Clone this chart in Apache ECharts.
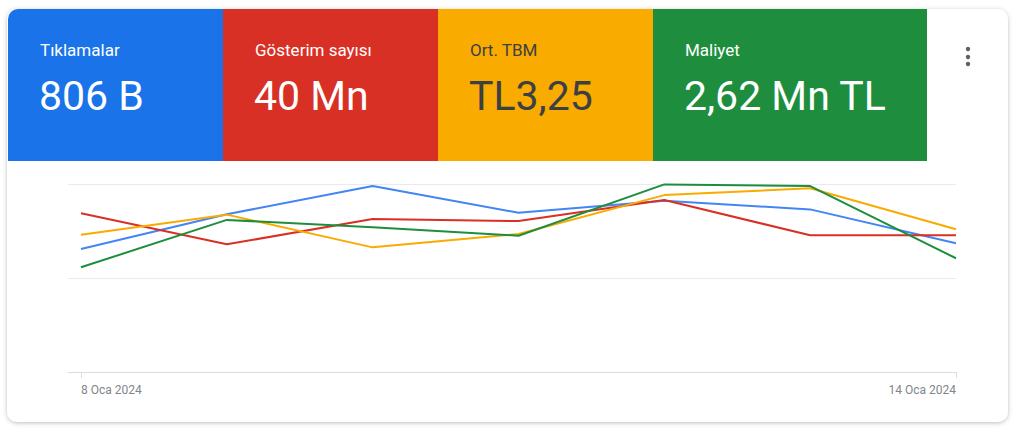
<!DOCTYPE html>
<html><head><meta charset="utf-8">
<script src="https://cdn.jsdelivr.net/npm/echarts@6/dist/echarts.min.js"></script>
<style>html,body{margin:0;padding:0;background:#fff;}#c{width:1019px;height:437px;}</style>
</head><body><div id="c"></div>
<script>
// Data
const dates = ['8 Oca 2024','9 Oca 2024','10 Oca 2024','11 Oca 2024','12 Oca 2024','13 Oca 2024','14 Oca 2024'];
const metricNames = ['Tıklamalar','Gösterim sayısı','Ort. TBM','Maliyet'];
const metricValues = ['806 B','40 Mn','TL3,25','2,62 Mn TL'];
// relative index (top gridline = 100)
const clicks      = [65.4, 83.9, 98.9, 84.7, 91.1, 86.5, 68.5];
const impressions = [84.4, 67.9, 81.4, 80.3, 91.5, 72.7, 72.7];
const avgCpc      = [73.0, 83.7, 66.3, 73.4, 94.1, 97.7, 75.9];
const cost        = [55.7, 80.9, 77.0, 72.5, 99.8, 98.9, 60.5];
const tickLabelIdx = [0, 6];

const seriesData = [clicks, impressions, avgCpc, cost];
const lineColors = ['#4285f4','#d93025','#f9ab00','#1e8e3e'];
const tileColors = ['#1a73e8','#d93025','#f9ab00','#1e8e3e'];
const tileText = ['#ffffff','#ffffff','#3c4043','#ffffff'];
const tileX = [8, 223, 438, 653, 927];

const chart = echarts.init(document.getElementById('c'), null, {renderer:'svg'});
const graphic = [];
graphic.push({type:'rect', z:-10, shape:{x:7,y:9,width:1001,height:413,r:10},
  style:{fill:'#fff', shadowBlur:4, shadowOffsetY:1, shadowColor:'rgba(60,64,67,0.35)'}});
for (let i=0;i<4;i++){
  const x0=tileX[i], w=tileX[i+1]-x0;
  graphic.push({type:'rect', z:-5, shape:{x:x0,y:9,width:w,height:152,r: i===0?[10,0,0,0]:0}, style:{fill:tileColors[i]}});
  graphic.push({type:'text', z:1, x:x0+32, y:41, style:{text:metricNames[i], fill:tileText[i], font:'400 17px Roboto', verticalAlign:'top'}});
  graphic.push({type:'text', z:1, x:x0+31, y:75, style:{text:metricValues[i], fill:tileText[i], font:'400 41px Roboto', verticalAlign:'top'}});
}
[49,57,64].forEach(y=>graphic.push({type:'circle', shape:{cx:968,cy:y,r:2.2}, style:{fill:'#5f6368'}}));

chart.setOption({
  animation:false,
  graphic: graphic,
  grid:{left:68, right:63, top:184, bottom:65},
  xAxis:{type:'value', min:-0.089, max:6,
    axisLine:{lineStyle:{color:'#dadce0'}},
    axisTick:{show:true, customValues:tickLabelIdx, length:6, lineStyle:{color:'#dadce0'}},
    axisLabel:{customValues:tickLabelIdx, color:'#80868b', fontFamily:'Roboto', fontSize:12, margin:12,
      formatter:(v)=>dates[Math.round(v)],
      align:'left', alignMinLabel:'left', alignMaxLabel:'right'},
    splitLine:{show:false}},
  yAxis:{type:'value', min:0, max:100, interval:50, axisLabel:{show:false}, axisLine:{show:false}, axisTick:{show:false},
    splitLine:{lineStyle:{color:'#e8eaed', width:1}}},
  series: seriesData.map((d,k)=>({type:'line', data:d.map((v,i)=>[i,v]), symbol:'none', lineStyle:{width:2, color:lineColors[k]}, z:2+k}))
});
</script></body></html>
